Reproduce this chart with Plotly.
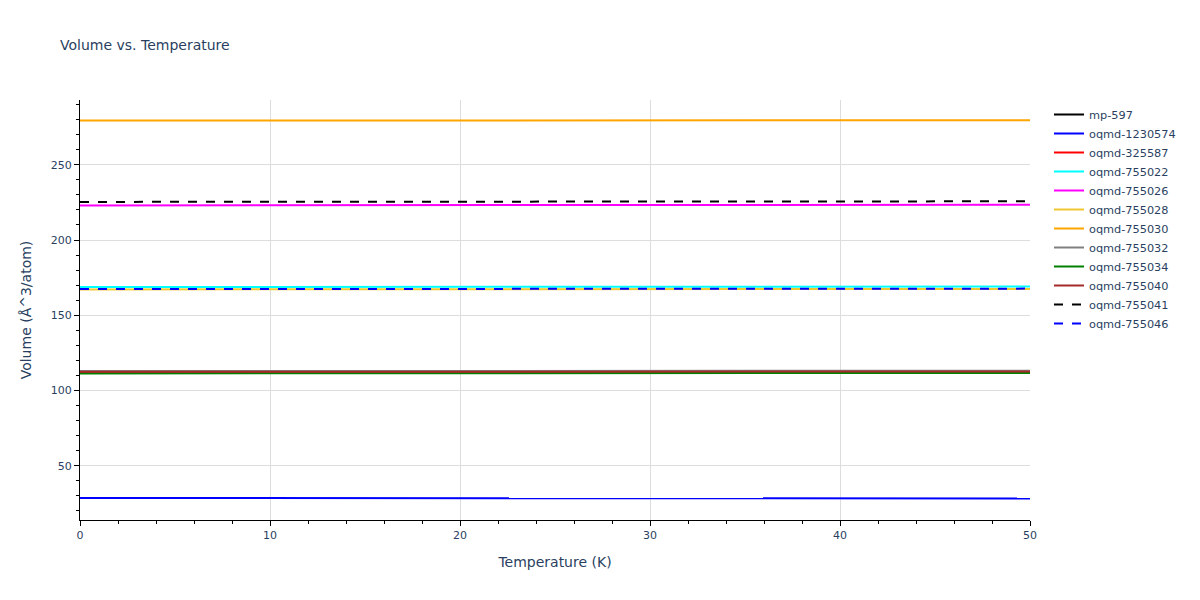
import plotly.graph_objects as go

temperature = [0, 10, 20, 30, 40, 50]

names = ["mp-597", "oqmd-1230574", "oqmd-325587", "oqmd-755022", "oqmd-755026",
         "oqmd-755028", "oqmd-755030", "oqmd-755032", "oqmd-755034", "oqmd-755040",
         "oqmd-755041", "oqmd-755046"]

v_mp597 = [112.3, 112.3, 112.4, 112.4, 112.5, 112.6]
v_1230574 = [28.6, 28.5, 28.5, 28.4, 28.4, 28.3]
v_325587 = [112.0, 112.0, 112.1, 112.1, 112.2, 112.3]
v_755022 = [168.8, 168.8, 168.9, 169.0, 169.0, 169.1]
v_755026 = [223.0, 223.0, 223.1, 223.2, 223.3, 223.4]
v_755028 = [167.2, 167.2, 167.3, 167.4, 167.4, 167.5]
v_755030 = [279.3, 279.3, 279.4, 279.4, 279.5, 279.6]
v_755032 = [112.9, 112.9, 113.0, 113.0, 113.1, 113.2]
v_755034 = [111.4, 111.4, 111.5, 111.5, 111.6, 111.7]
v_755040 = [112.4, 112.4, 112.5, 112.5, 112.6, 112.7]
v_755041 = [225.3, 225.3, 225.4, 225.5, 225.6, 225.7]
v_755046 = [167.4, 167.4, 167.5, 167.6, 167.6, 167.7]

series = [v_mp597, v_1230574, v_325587, v_755022, v_755026, v_755028,
          v_755030, v_755032, v_755034, v_755040, v_755041, v_755046]
colors = ["black", "blue", "red", "cyan", "magenta", "#f0c630", "orange",
          "gray", "green", "brown", "black", "blue"]
dashes = ["solid"] * 10 + ["dash", "dash"]

fig = go.Figure()
for n, v, c, d in zip(names, series, colors, dashes):
    fig.add_trace(go.Scatter(x=temperature, y=v, mode="lines", name=n,
                             line=dict(color=c, dash=d, width=2)))

fig.update_layout(
    template="plotly_white",
    width=1200, height=600,
    font=dict(family="DejaVu Sans", size=11),
    title=dict(text="Volume vs. Temperature", font=dict(size=14),
               x=52 / 1200, xanchor="left", y=1 - 37 / 600, yanchor="middle"),
    margin=dict(l=72, r=178, t=92, b=88),
    legend=dict(font=dict(size=11.3)),
)
fig.update_xaxes(title_text="Temperature (K)", title_font_size=14, range=[0, 50],
                 showline=True, linecolor="black", ticks="outside", tickcolor="black",
                 minor=dict(ticks="outside", dtick=2, showgrid=False),
                 zeroline=False, gridcolor="#dddddd")
fig.update_yaxes(title_text="Volume (Å^3/atom)", title_font_size=14, range=[14, 293],
                 showline=True, linecolor="black", ticks="outside", tickcolor="black",
                 minor=dict(ticks="outside", dtick=10, showgrid=False),
                 zeroline=False, gridcolor="#dddddd")

fig.write_html("out.html")
